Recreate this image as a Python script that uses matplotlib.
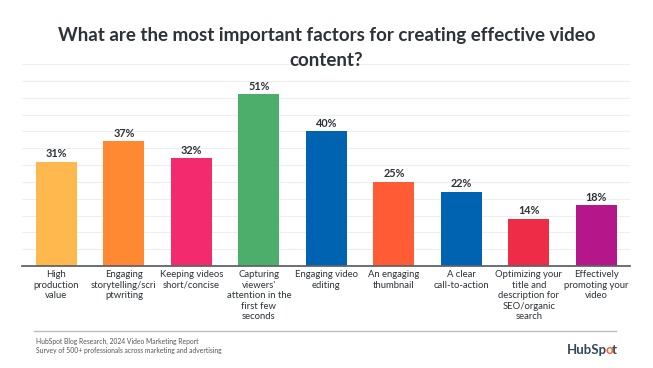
import matplotlib.pyplot as plt

# data
factors = [
    'High\nproduction\nvalue',
    'Engaging\nstorytelling/scri\nptwriting',
    'Keeping videos\nshort/concise',
    "Capturing\nviewers'\nattention in the\nfirst few\nseconds",
    'Engaging video\nediting',
    'An engaging\nthumbnail',
    'A clear\ncall-to-action',
    'Optimizing your\ntitle and\ndescription for\nSEO/organic\nsearch',
    'Effectively\npromoting your\nvideo',
]
shares = [31, 37, 32, 51, 40, 25, 22, 14, 18]
bar_colors = ['#FFB84E', '#FF8933', '#F42A6F', '#4DAE6B', '#0063B2',
              '#FF5C35', '#0063B2', '#EE2C47', '#B5178B']

plt.rcParams['font.family'] = ['Lato', 'DejaVu Sans']
text_col = '#2D3138'

fig = plt.figure(figsize=(6.53, 3.68), dpi=100)
ax = fig.add_axes([22 / 653, 1 - 266 / 368, (630 - 22) / 653, (266 - 64) / 368])

x = range(len(shares))
bars = ax.bar(x, shares, width=0.61, color=bar_colors, zorder=3)

ax.set_ylim(0, 60)
ax.set_xlim(-0.51, 8.5)
ax.set_yticks(range(0, 61, 5))
ax.yaxis.grid(True, color='#EEEEEE', linewidth=0.8, zorder=0)
ax.tick_params(axis='y', left=False, labelleft=False)
ax.tick_params(axis='x', length=0, pad=3)
ax.set_xticks(list(x))
ax.set_xticklabels(factors, fontsize=6.8, color=text_col, linespacing=1.22, va='top')
for s in ['top', 'right', 'left']:
    ax.spines[s].set_visible(False)
ax.spines['bottom'].set_color('#5F646B')
ax.spines['bottom'].set_linewidth(1.3)
ax.spines['bottom'].set_zorder(4)

for bar, v in zip(bars, shares):
    ax.text(bar.get_x() + bar.get_width() / 2, v + 0.8, f'{v}%',
            ha='center', va='bottom', fontsize=7.8, fontweight='bold', color=text_col)

fig.text(0.5, 1 - 35 / 368, 'What are the most important factors for creating effective video',
         ha='center', va='center', fontsize=13.5, fontweight='bold', color=text_col)
fig.text(0.5, 1 - 61 / 368, 'content?',
         ha='center', va='center', fontsize=13.5, fontweight='bold', color=text_col)

# footer
fig.add_artist(plt.Line2D([34 / 653, 616 / 653], [1 - 331 / 368, 1 - 331 / 368],
                          color='#BDBDBD', linewidth=1))
fig.text(36 / 653, 1 - 341 / 368, 'HubSpot Blog Research, 2024 Video Marketing Report',
         fontsize=4.9, color='#555555', va='center')
fig.text(36 / 653, 1 - 350 / 368, 'Survey of 500+ professionals across marketing and advertising',
         fontsize=4.9, color='#555555', va='center')

# logo text, with the orange "o"
fig.canvas.draw()
rend = fig.canvas.get_renderer()
xpos = 567
for part, col in [('HubSp', '#33475B'), ('o', '#FF5C35'), ('t', '#33475B')]:
    t = fig.text(xpos / 653, 1 - 350 / 368, part, fontsize=9.5, fontweight='bold',
                 color=col, ha='left', va='center')
    xpos += t.get_window_extent(rend).width - 1.5

fig.savefig('out.png', dpi=100, facecolor='white')
